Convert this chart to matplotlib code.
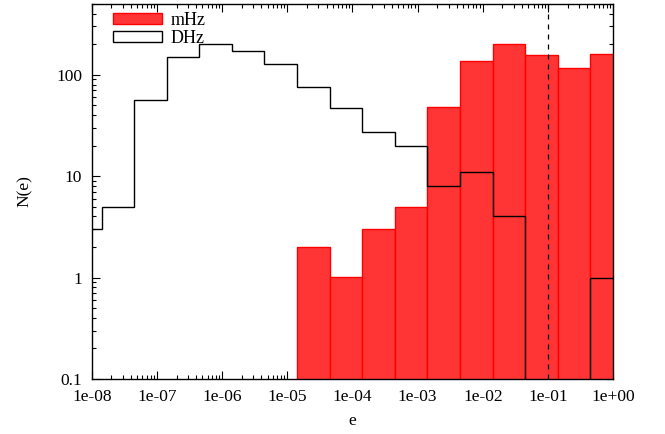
import numpy as np
import matplotlib
matplotlib.use("Agg")
import matplotlib.pyplot as plt
from matplotlib.patches import Patch
from matplotlib.ticker import LogLocator, FixedLocator, FixedFormatter, NullFormatter

# log10 bin edges (0.5 dex bins)
log_edges = [-8.35, -7.85, -7.35, -6.85, -6.35, -5.85, -5.35, -4.85, -4.35,
             -3.85, -3.35, -2.85, -2.35, -1.85, -1.35, -0.85, -0.35, 0.15]
dhz_counts = [3, 5, 57, 151, 200, 171, 127, 76, 47, 27, 20, 8, 11, 4, 0, 0, 1]
mhz_counts = [0, 0, 0, 0, 0, 0, 0, 2, 1, 3, 5, 48, 138, 200, 155, 117, 162]
xtick_vals = [1e-8, 1e-7, 1e-6, 1e-5, 1e-4, 1e-3, 1e-2, 1e-1, 1e0]
xtick_labels = ["1e-08", "1e-07", "1e-06", "1e-05", "1e-04", "1e-03", "1e-02", "1e-01", "1e+00"]
ytick_vals = [0.1, 1, 10, 100]
ytick_labels = ["0.1", "1", "10", "100"]
series_names = ["mHz", "DHz"]
ecc_limit = 0.1

plt.rcParams['font.family'] = ['Liberation Serif', 'DejaVu Serif']
plt.rcParams['font.size'] = 11

edges = 10.0 ** np.array(log_edges)
fig = plt.figure(figsize=(6.65, 4.34), dpi=100)
ax = fig.add_axes([0.138, 0.127, 0.784, 0.864])

mh = np.array(mhz_counts, dtype=float)
sel = mh > 0
ax.bar(edges[:-1][sel], mh[sel], width=np.diff(edges)[sel], align='edge',
       bottom=1e-3, color='#ff3535', edgecolor='#ff0000', linewidth=1.0, zorder=2)

dh = np.array(dhz_counts, dtype=float)
dh_draw = np.where(dh > 0, dh, 1e-3)
ax.stairs(dh_draw, edges, baseline=1e-3, color='black', linewidth=1.0, zorder=3)

ax.axvline(ecc_limit, color='black', linestyle=(0, (4, 4)), linewidth=0.9, zorder=4)

ax.set_xscale('log')
ax.set_yscale('log')
ax.set_xlim(1e-8, 1.0)
ax.set_ylim(0.1, 500)

ax.xaxis.set_major_locator(FixedLocator(xtick_vals))
ax.xaxis.set_major_formatter(FixedFormatter(xtick_labels))
ax.xaxis.set_minor_locator(LogLocator(base=10, subs=np.arange(2, 10), numticks=50))
ax.xaxis.set_minor_formatter(NullFormatter())
ax.yaxis.set_major_locator(FixedLocator(ytick_vals))
ax.yaxis.set_major_formatter(FixedFormatter(ytick_labels))
ax.yaxis.set_minor_locator(LogLocator(base=10, subs=np.arange(2, 10), numticks=50))
ax.yaxis.set_minor_formatter(NullFormatter())

ax.tick_params(which='both', direction='in', top=True, right=True, width=0.8)
ax.tick_params(which='major', length=6, labelsize=12.5, pad=7)
ax.tick_params(which='minor', length=3)
for s in ax.spines.values():
    s.set_linewidth(1.0)

ax.set_xlabel('e', fontsize=12.5, labelpad=6)
ax.set_ylabel('N(e)', fontsize=12.5, labelpad=17)

handles = [Patch(facecolor='#ff3535', edgecolor='#ff0000', label=series_names[0]),
           Patch(facecolor='white', edgecolor='black', label=series_names[1])]
ax.legend(handles=handles, loc='upper left', frameon=False, fontsize=13,
          handlelength=2.7, handleheight=0.55, labelspacing=0.05,
          borderaxespad=0.1, bbox_to_anchor=(0.023, 1.002), handletextpad=0.5)

fig.savefig('out.png', dpi=100)
